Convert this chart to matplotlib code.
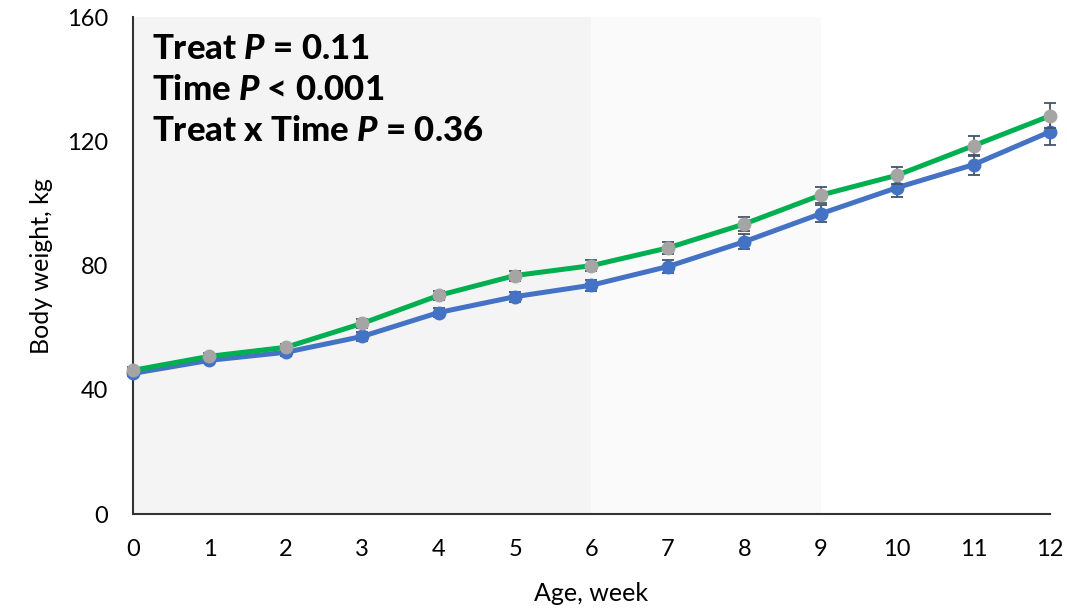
import matplotlib
matplotlib.use('Agg')
import matplotlib.pyplot as plt

weeks = [0, 1, 2, 3, 4, 5, 6, 7, 8, 9, 10, 11, 12]
control = [45.3, 49.5, 52.1, 57.2, 64.9, 70.0, 73.7, 79.7, 87.7, 96.7, 105.1, 112.5, 123.1]
control_se = [1.0, 1.0, 1.2, 1.5, 1.5, 1.6, 1.8, 2.0, 2.4, 2.8, 3.0, 3.2, 4.4]
treat = [46.3, 50.8, 53.7, 61.4, 70.4, 76.8, 80.0, 85.7, 93.4, 102.7, 109.1, 118.6, 128.2]
treat_se = [1.0, 1.0, 1.2, 1.4, 1.4, 1.6, 1.8, 2.0, 2.2, 2.6, 2.8, 3.2, 4.0]
yticks = [0, 40, 80, 120, 160]
stats_lines = [("Treat ", "= 0.11"), ("Time ", "< 0.001"), ("Treat x Time ", "= 0.36")]

plt.rcParams['font.family'] = ['Lato', 'DejaVu Sans']
plt.rcParams['mathtext.fontset'] = 'custom'
plt.rcParams['mathtext.it'] = 'Lato:italic:black'
plt.rcParams['mathtext.rm'] = 'Lato:black'

fig = plt.figure(figsize=(10.67, 6.12), dpi=100)
ax = fig.add_axes([0.1247, 0.160, 0.8593, 0.812])

# shaded periods
ax.axvspan(0, 6, color='#f4f4f4', zorder=0, lw=0)
ax.axvspan(6, 9, color='#fafafa', zorder=0, lw=0)

ax.errorbar(weeks, control, yerr=control_se, color='#4472C4', lw=3.6,
            marker='o', ms=9, mfc='#4472C4', mec='#4472C4',
            ecolor='#44546A', elinewidth=1.3, capsize=4, capthick=1.3,
            clip_on=False, zorder=3)
ax.errorbar(weeks, treat, yerr=treat_se, color='#00B050', lw=3.6,
            marker='o', ms=9, mfc='#A5A5A5', mec='#A5A5A5',
            ecolor='#44546A', elinewidth=1.3, capsize=4, capthick=1.3,
            clip_on=False, zorder=4)

ax.set_xlim(0, 12)
ax.set_ylim(0, 160)
ax.set_xticks(weeks)
ax.set_yticks(yticks)
ax.tick_params(length=0, labelsize=17, colors='black', pad=18)
ax.tick_params(axis='x', pad=18)
for s in ['top', 'right']:
    ax.spines[s].set_visible(False)
for s in ['left', 'bottom']:
    ax.spines[s].set_color('#333333')
    ax.spines[s].set_linewidth(1.5)

ax.set_xlabel('Age, week', fontsize=18, labelpad=16)
ax.set_ylabel('Body weight, kg', fontsize=18, labelpad=10)

y0 = 0.935
for i, (pre, post) in enumerate(stats_lines):
    ax.text(0.021, y0 - i * 0.082, pre + "$P$ " + post, transform=ax.transAxes,
            fontsize=25, fontweight='black', va='center', ha='left', zorder=5)

fig.savefig('out.png', dpi=100)
